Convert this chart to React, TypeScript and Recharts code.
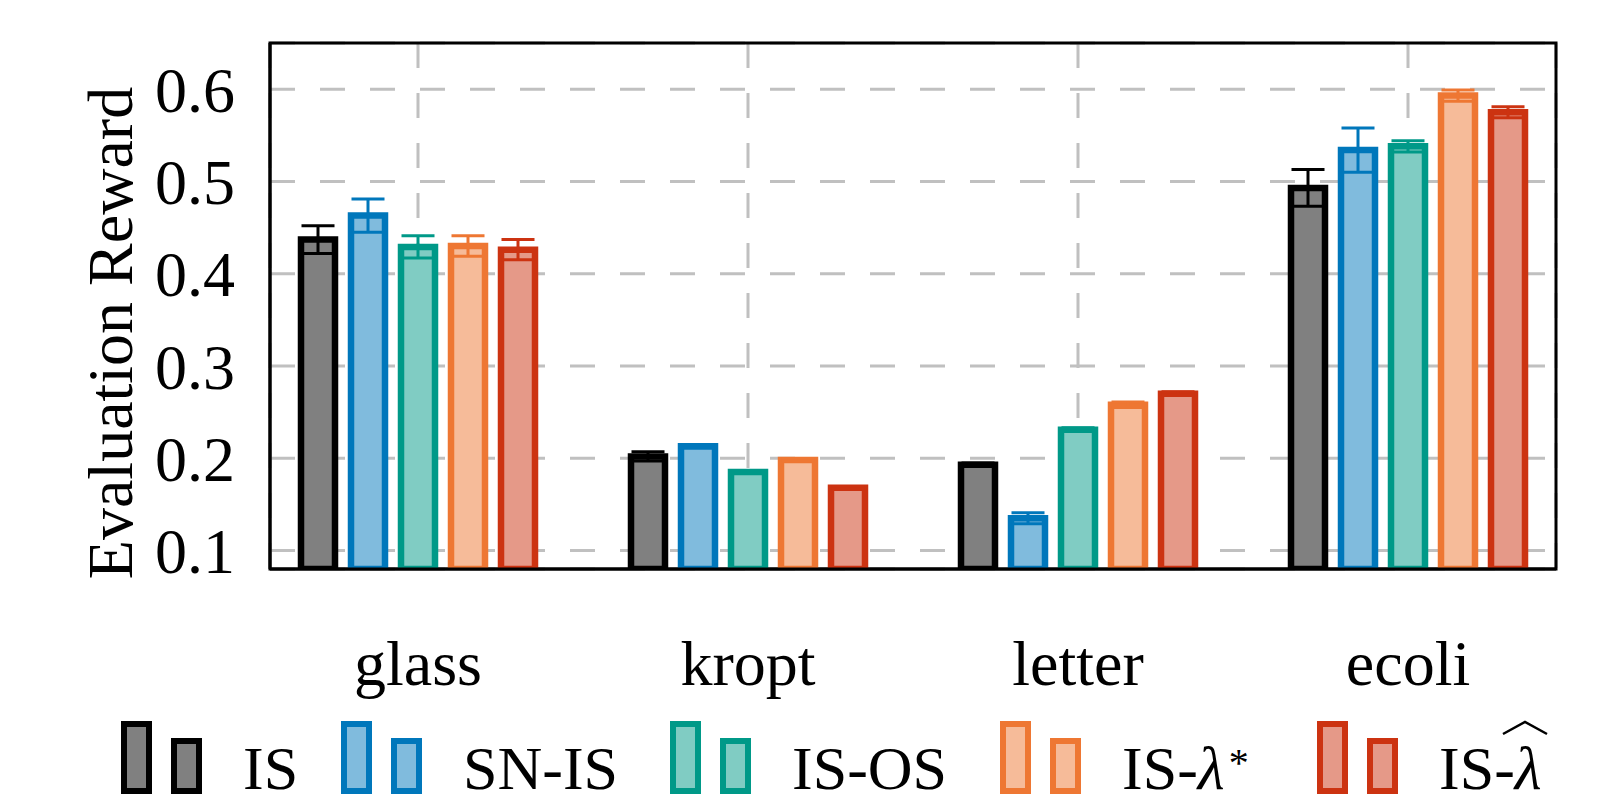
import React from 'react';
import * as RC from 'recharts';
import {
  BarChart,
  Bar,
  XAxis,
  YAxis,
  CartesianGrid,
  ErrorBar,
} from 'recharts';

// datasets on the x axis
const categories = ['glass', 'kropt', 'letter', 'ecoli'];

// mean evaluation reward and error per estimator
const isMean = [0.437, 0.202, 0.193, 0.493];
const isErr = [0.015, 0.005, 0.002, 0.02];
const snisMean = [0.463, 0.213, 0.135, 0.534];
const snisErr = [0.018, 0.002, 0.006, 0.024];
const isosMean = [0.429, 0.185, 0.231, 0.538];
const isosErr = [0.012, 0.001, 0.002, 0.006];
const lamStarMean = [0.43, 0.198, 0.258, 0.593];
const lamStarErr = [0.011, 0.001, 0.003, 0.006];
const lamHatMean = [0.426, 0.168, 0.27, 0.575];
const lamHatErr = [0.011, 0.001, 0.002, 0.006];

const yTicks = [0.1, 0.2, 0.3, 0.4, 0.5, 0.6];
const seriesNames = ['IS', 'SN-IS', 'IS-OS', 'IS-λ*', 'IS-λ^'];

const FONT = "'Liberation Serif', 'Times New Roman', serif";

// Paul Tol vibrant: stroke + 50% tint fill
const SERIES = [
  { key: 'is', err: 'isErr', stroke: '#000000', fill: '#808080' },
  { key: 'snis', err: 'snisErr', stroke: '#0077BB', fill: '#80BBDD' },
  { key: 'isos', err: 'isosErr', stroke: '#009988', fill: '#80CCC3' },
  { key: 'lamStar', err: 'lamStarErr', stroke: '#EE7733', fill: '#F6BB99' },
  { key: 'lamHat', err: 'lamHatErr', stroke: '#CC3311', fill: '#E59988' },
];

// left edge of each legend entry
const LEGEND_X = [121, 341, 670, 1000, 1317];

const chartData = categories.map((name, i) => ({
  name,
  is: isMean[i],
  isErr: isErr[i],
  snis: snisMean[i],
  snisErr: snisErr[i],
  isos: isosMean[i],
  isosErr: isosErr[i],
  lamStar: lamStarMean[i],
  lamStarErr: lamStarErr[i],
  lamHat: lamHatMean[i],
  lamHatErr: lamHatErr[i],
}));

// black box around the plot area (pgfplots style frame)
const Frame = () => {
  const hook = (RC as any).usePlotArea || (RC as any).useOffset;
  const area = hook ? hook() : null;
  if (!area) return null;
  const x = area.x ?? area.left;
  const y = area.y ?? area.top;
  return (
    <rect
      x={x}
      y={y}
      width={area.width}
      height={area.height}
      fill="none"
      stroke="#000"
      strokeWidth={3}
    />
  );
};

// rotated y label, placed left of the tick labels
const YLabel = ({ viewBox }: any) => {
  const cx = viewBox.x + 132;
  const cy = viewBox.y + viewBox.height / 2 + 27;
  return (
    <text
      transform={`translate(${cx},${cy}) rotate(-90)`}
      textAnchor="middle"
      fontFamily={FONT}
      fontSize={64}
      fill="#000"
    >
      Evaluation Reward
    </text>
  );
};

// legend label with math-ish lambda
const renderName = (name: string) => {
  if (name === 'IS-λ*') {
    return (
      <span>
        IS-<i>λ</i>
        <sup style={{ fontSize: 40, verticalAlign: 'top', lineHeight: '40px', marginLeft: 4 }}>*</sup>
      </span>
    );
  }
  if (name === 'IS-λ^') {
    return (
      <span style={{ position: 'relative' }}>
        IS-<i>λ</i>
        <svg
          width={46}
          height={16}
          style={{ position: 'absolute', right: -6, top: -14, overflow: 'visible' }}
        >
          <polyline points="1,14 23,2 45,14" fill="none" stroke="#000" strokeWidth={2.5} />
        </svg>
      </span>
    );
  }
  return name;
};

const LegendIcon = ({ stroke, fill }: { stroke: string; fill: string }) => (
  <svg width={81} height={73} style={{ display: 'block', flex: 'none' }}>
    <rect x={3} y={3} width={25} height={67} fill={fill} stroke={stroke} strokeWidth={6} />
    <rect x={53} y={20} width={25} height={50} fill={fill} stroke={stroke} strokeWidth={6} />
  </svg>
);

const ChartLegend = () => (
  <div
    style={{
      position: 'absolute',
      left: 0,
      top: 721,
      width: 1618,
      height: 80,
      fontFamily: FONT,
      fontSize: 62,
      color: '#000',
      whiteSpace: 'nowrap',
    }}
  >
    {SERIES.map((s, i) => (
      <div
        key={s.key}
        style={{
          position: 'absolute',
          left: LEGEND_X[i],
          top: 0,
          display: 'flex',
          alignItems: 'flex-start',
        }}
      >
        <LegendIcon stroke={s.stroke} fill={s.fill} />
        <span
          style={{
            display: 'block',
            marginLeft: 41,
            lineHeight: '50px',
            marginTop: 22,
          }}
        >
          {renderName(seriesNames[i])}
        </span>
      </div>
    ))}
  </div>
);

export default function App() {
  return (
    <div
      style={{
        position: 'absolute',
        left: 0,
        top: 0,
        width: 1618,
        height: 801,
        background: '#fff',
        overflow: 'hidden',
      }}
    >
      <BarChart
        width={1618}
        height={801}
        data={chartData}
        margin={{ top: 43, right: 62, bottom: 0, left: 0 }}
        barSize={34}
        barGap={16}
      >
        <CartesianGrid stroke="#c0c0c0" strokeWidth={3} strokeDasharray="25 25" />
        <XAxis
          dataKey="name"
          height={232}
          padding={{ left: -17, right: -17 }}
          tickLine={false}
          tickSize={0}
          tickMargin={71}
          axisLine={{ stroke: '#000', strokeWidth: 3 }}
          tick={{ fontFamily: FONT, fontSize: 64, fill: '#000' }}
          interval={0}
        />
        <YAxis
          type="number"
          width={270}
          domain={[0.08, 0.65]}
          ticks={yTicks}
          allowDataOverflow
          tickFormatter={(v: number) => v.toFixed(1)}
          tickLine={false}
          tickSize={0}
          tickMargin={35}
          axisLine={{ stroke: '#000', strokeWidth: 3 }}
          tick={{ fontFamily: FONT, fontSize: 64, fill: '#000' }}
          label={<YLabel />}
        />
        {SERIES.map((s) => (
          <Bar
            key={s.key}
            dataKey={s.key}
            fill={s.fill}
            stroke={s.stroke}
            strokeWidth={6.5}
            isAnimationActive={false}
          >
            <ErrorBar
              dataKey={s.err}
              direction="y"
              width={16.5}
              stroke={s.stroke}
              strokeWidth={3}
              isAnimationActive={false}
            />
          </Bar>
        ))}
        <Frame />
      </BarChart>
      <ChartLegend />
    </div>
  );
}
